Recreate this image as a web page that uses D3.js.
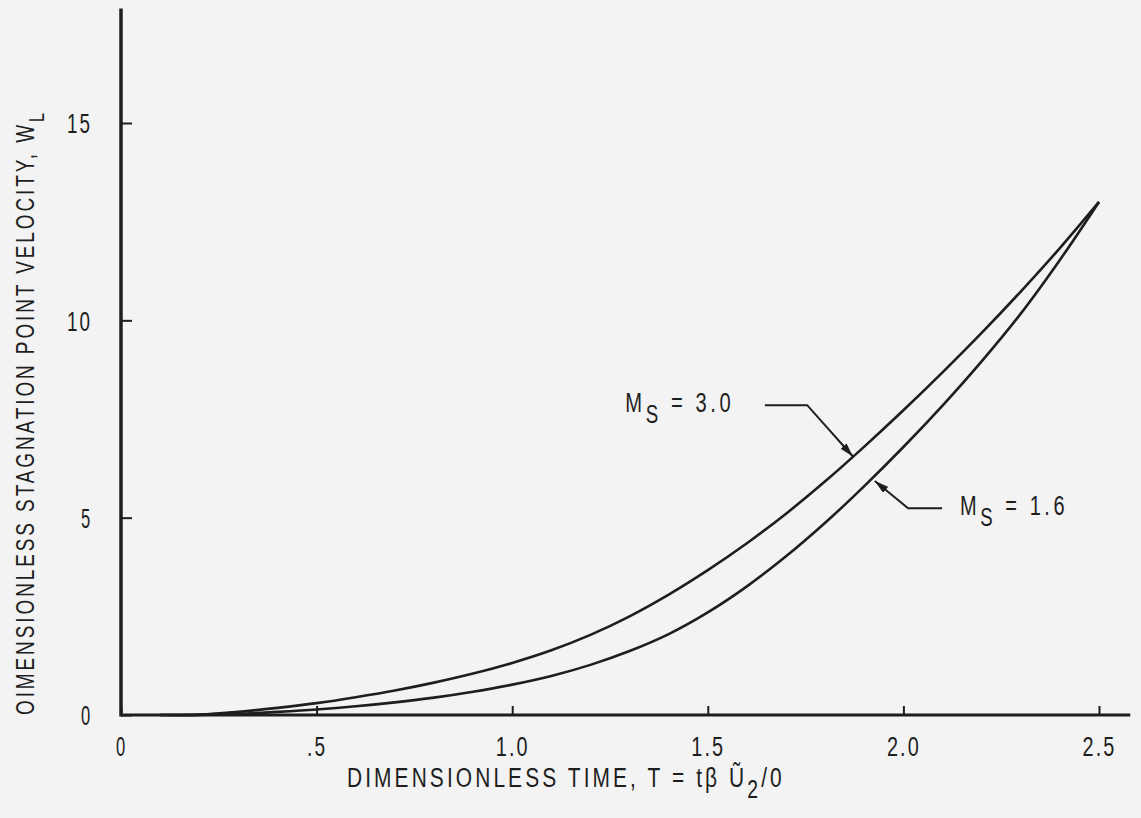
<!DOCTYPE html>
<html>
<head>
<meta charset="utf-8">
<script src="https://cdn.jsdelivr.net/npm/d3@7"></script>
<style>
  html, body { margin: 0; padding: 0; background: #f3f3f3; }
  svg { display: block; }
</style>
</head>
<body>
<svg id="chart"></svg>
<script>
// daten
const tValues = [0.1, 0.2, 0.3, 0.4, 0.5, 0.6, 0.7, 0.8, 0.9, 1.0, 1.1, 1.2, 1.3,
                 1.4, 1.5, 1.6, 1.7, 1.8, 1.9, 2.0, 2.1, 2.2, 2.3, 2.4, 2.5];
const ms30 = [0, 0.01, 0.08, 0.18, 0.30, 0.45, 0.62, 0.82, 1.05, 1.32, 1.64, 2.03, 2.50,
              3.05, 3.67, 4.35, 5.10, 5.92, 6.80, 7.72, 8.68, 9.68, 10.73, 11.83, 13.0];
const ms16 = [0, 0, 0.03, 0.08, 0.14, 0.22, 0.32, 0.44, 0.59, 0.77, 0.99, 1.27, 1.62,
              2.05, 2.60, 3.26, 4.02, 4.87, 5.80, 6.79, 7.84, 8.96, 10.17, 11.53, 13.0];

const xTickValues = [0, 0.5, 1.0, 1.5, 2.0, 2.5];
const xTickLabels = ["0", ".5", "1.0", "1.5", "2.0", "2.5"];
const yTickValues = [0, 5, 10, 15];
const yTickLabels = ["0", "5", "10", "15"];

// beschriftungen: spitze auf der kurve, knick, ende der linie, textanfang (datenkoordinaten)
const annotations = [
  { main: "M", sub: "S", rest: " = 3.0", tip: [1.871, 6.55], elbow: [1.754, 7.85], start: [1.646, 7.85], text: [1.289, 7.68], len: 109 },
  { main: "M", sub: "S", rest: " = 1.6", tip: [1.927, 5.93], elbow: [2.012, 5.24], start: [2.099, 5.24], text: [2.145, 5.07], len: 108 }
];

const W = 1141, H = 818;
const FONT = "'Liberation Sans', Arial, sans-serif";
const ink = "#1e1e1e";

// schmale schrift nachbilden: breite pro zeichen
function labelLength(s) {
  let w = 0;
  for (const ch of s) w += (ch === "." ? 6 : 11);
  return w + 3 * (s.length - 1);
}

// text horizontal auf zielbreite stauchen (per transform, nicht textLength)
function squeeze(textSel, target, pre, post) {
  const w = textSel.node().getBBox().width;
  const s = target / w;
  textSel.attr("transform", (pre || "") + " scale(" + s + ",1)" + (post || ""));
}

const svg = d3.select("#chart").attr("width", W).attr("height", H);
svg.append("rect").attr("width", W).attr("height", H).attr("fill", "#f3f3f3");

const x = d3.scaleLinear().domain([0, 2.5]).range([121, 1099]);
const y = d3.scaleLinear().domain([0, 15]).range([715, 123]);

// achsenlinien (laenger als die letzte markierung)
svg.append("line")
  .attr("x1", x(0)).attr("x2", x(2.58))
  .attr("y1", y(0)).attr("y2", y(0))
  .attr("stroke", ink).attr("stroke-width", 3);
svg.append("line")
  .attr("x1", x(0)).attr("x2", x(0))
  .attr("y1", y(0) + 1.5).attr("y2", y(17.9))
  .attr("stroke", ink).attr("stroke-width", 3.5);

// x achse
const xAxis = svg.append("g")
  .attr("transform", "translate(0," + y(0) + ")")
  .call(d3.axisBottom(x).tickValues(xTickValues)
    .tickFormat((d, i) => xTickLabels[i]).tickSizeOuter(0));
xAxis.select(".domain").remove();
xAxis.selectAll(".tick line")
  .attr("x1", 0).attr("x2", 0).attr("y1", 0).attr("y2", -9)
  .attr("stroke", ink).attr("stroke-width", 2);
xAxis.selectAll(".tick text")
  .attr("x", 0).attr("y", 0).attr("dy", "0.35em")
  .attr("font-family", FONT).attr("font-size", 28).attr("fill", ink)
  .attr("letter-spacing", 3)
  .each(function (d) {
    squeeze(d3.select(this), labelLength(xTickLabels[xTickValues.indexOf(d)]), "translate(0,31)");
  });

// y achse
const yAxis = svg.append("g")
  .attr("transform", "translate(" + x(0) + ",0)")
  .call(d3.axisLeft(y).tickValues(yTickValues)
    .tickFormat((d, i) => yTickLabels[i]).tickSizeOuter(0));
yAxis.select(".domain").remove();
yAxis.selectAll(".tick line")
  .attr("x1", 0).attr("x2", 11).attr("y1", 0).attr("y2", 0)
  .attr("stroke", ink).attr("stroke-width", 2);
yAxis.selectAll(".tick text")
  .attr("x", 0).attr("y", 0).attr("dy", "0.35em")
  .attr("font-family", FONT).attr("font-size", 28).attr("fill", ink)
  .attr("letter-spacing", 3)
  .each(function (d) {
    squeeze(d3.select(this), labelLength(yTickLabels[yTickValues.indexOf(d)]), "translate(-29,0)");
  });

// kurven
const line = d3.line()
  .x(d => x(d[0]))
  .y(d => y(d[1]))
  .curve(d3.curveCatmullRom.alpha(0.5));

[ms30, ms16].forEach(function (series) {
  svg.append("path")
    .datum(tValues.map((t, i) => [t, series[i]]))
    .attr("d", line)
    .attr("fill", "none")
    .attr("stroke", ink)
    .attr("stroke-width", 2.6)
    .attr("stroke-linejoin", "round");
});

// pfeilspitze
svg.append("defs").append("marker")
  .attr("id", "arrow")
  .attr("viewBox", "0 0 14 8")
  .attr("refX", 14).attr("refY", 4)
  .attr("markerWidth", 14).attr("markerHeight", 8)
  .attr("markerUnits", "userSpaceOnUse")
  .attr("orient", "auto")
  .append("path")
  .attr("d", "M0,0 L14,4 L0,8 Z")
  .attr("fill", ink);

annotations.forEach(function (a) {
  svg.append("path")
    .attr("d", d3.line()([a.start, a.elbow, a.tip].map(p => [x(p[0]), y(p[1])])))
    .attr("fill", "none").attr("stroke", ink).attr("stroke-width", 2)
    .attr("marker-end", "url(#arrow)");

  const t = svg.append("text")
    .attr("x", 0).attr("y", 0)
    .attr("font-family", FONT).attr("font-size", 28).attr("fill", ink)
    .attr("letter-spacing", 5);
  t.append("tspan").text(a.main);
  t.append("tspan").attr("dy", 11).attr("font-size", 26).text(a.sub);
  t.append("tspan").attr("dy", -11).text(a.rest);
  squeeze(t, a.len, "translate(" + x(a.text[0]) + "," + y(a.text[1]) + ")");
});

// achsentitel
const xt = svg.append("text")
  .attr("x", 0).attr("y", 0)
  .attr("font-family", FONT).attr("font-size", 27).attr("fill", ink)
  .attr("letter-spacing", 4);
xt.append("tspan").text("DIMENSIONLESS TIME, T = t\u03B2 \u0168");
xt.append("tspan").attr("dy", 11).attr("font-size", 25).text("2");
xt.append("tspan").attr("dy", -11).text("/0");
squeeze(xt, 438, "translate(347,787)");

const yt = svg.append("text")
  .attr("x", 0).attr("y", 0)
  .attr("font-family", FONT).attr("font-size", 26).attr("fill", ink)
  .attr("letter-spacing", 4);
yt.append("tspan").text("OIMENSIONLESS STAGNATION POINT VELOCITY, W");
yt.append("tspan").attr("dy", 10).attr("font-size", 22).text("L");
squeeze(yt, 605, "translate(34,715) rotate(-90)");
</script>
</body>
</html>
